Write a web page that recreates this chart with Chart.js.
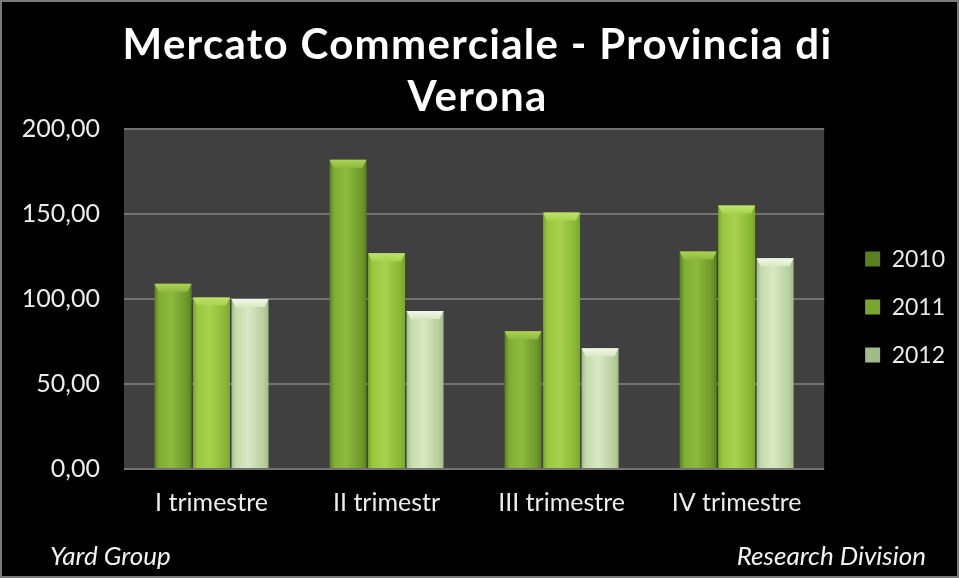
<!DOCTYPE html>
<html><head><meta charset="utf-8">
<script src="https://cdn.jsdelivr.net/npm/chart.js@4.4.0/dist/chart.umd.min.js"></script>
<style>
html,body{margin:0;padding:0;background:#000;}
#wrap{position:relative;width:959px;height:578px;background:#000;overflow:hidden;}
#frame{position:absolute;left:0;top:0;width:955px;height:574px;border:2px solid #7a7a7a;pointer-events:none;}
.foot{position:absolute;top:539px;font:italic 26px Lato, sans-serif;color:#f2f2f2;white-space:nowrap;}
</style></head><body>
<div id="wrap"><canvas id="c" width="959" height="578"></canvas>
<div class="foot" style="left:50px">Yard Group</div>
<div class="foot" style="right:33px">Research Division</div>
<div id="frame"></div></div>
<script>
const titleLines = ["Mercato Commerciale - Provincia di", "Verona"];
const categories = ["I trimestre", "II trimestr", "III trimestre", "IV trimestre"];
const seriesNames = ["2010", "2011", "2012"];
const values2010 = [109, 182, 81, 128];
const values2011 = [101, 127, 151, 155];
const values2012 = [100, 93, 71, 124];
const yTicks = [0, 50, 100, 150, 200];

const CAT_PCT = 0.66;
const BAR_PCT = 0.96;
const palettes = [
  ["#587f20", "#7fac34", "#8dba3f", "#6c9829", "#acd352"],
  ["#78a72b", "#98c73f", "#a7d24d", "#88b734", "#c0e26d"],
  ["#a0ba88", "#c6dbab", "#d9e8c4", "#b8ce9d", "#f2f7e8"]
];

function barFill(p, dsIndex) {
  return (ctx) => {
    const chart = ctx.chart;
    const area = chart.chartArea;
    if (!area || ctx.type !== 'data' || ctx.dataIndex === undefined) return p[2];
    const xs = chart.scales.x;
    const cw = (area.right - area.left) / categories.length;
    const group = cw * CAT_PCT;
    const slot = group / seriesNames.length;
    const center = xs.getPixelForValue(ctx.dataIndex) - group / 2 + (dsIndex + 0.5) * slot;
    const w = slot * BAR_PCT;
    const g = chart.ctx.createLinearGradient(center - w / 2, 0, center + w / 2, 0);
    g.addColorStop(0, p[0]);
    g.addColorStop(0.12, p[1]);
    g.addColorStop(0.45, p[2]);
    g.addColorStop(0.88, p[3]);
    g.addColorStop(1, p[0]);
    return g;
  };
}

const plotBg = {
  id: 'plotBg',
  beforeDraw(chart) {
    const {ctx, chartArea: a} = chart;
    ctx.save();
    ctx.fillStyle = '#404040';
    ctx.fillRect(a.left, a.top, a.right - a.left, a.bottom - a.top);
    ctx.restore();
    const tb = chart.titleBlock;
    if (tb && !tb._spaced) {
      const orig = tb.draw.bind(tb);
      tb.draw = function (ca) {
        const c = chart.ctx;
        c.save();
        try { c.letterSpacing = '1.3px'; } catch (e) {}
        orig(ca);
        c.restore();
      };
      tb._spaced = true;
    }
  }
};

const barCaps = {
  id: 'barCaps',
  afterDatasetsDraw(chart) {
    const ctx = chart.ctx;
    chart.data.datasets.forEach((ds, di) => {
      const meta = chart.getDatasetMeta(di);
      const p = palettes[di];
      meta.data.forEach((bar) => {
        const {x, y, width} = bar.getProps(['x', 'y', 'width'], true);
        const l = x - width / 2, r = x + width / 2;
        const h = 8;
        const g = ctx.createLinearGradient(0, y, 0, y + h);
        g.addColorStop(0, p[4]);
        g.addColorStop(1, p[2]);
        ctx.save();
        ctx.fillStyle = g;
        ctx.beginPath();
        ctx.moveTo(l, y);
        ctx.lineTo(r, y);
        ctx.lineTo(r - 4, y + h);
        ctx.lineTo(l + 4, y + h);
        ctx.closePath();
        ctx.fill();
        ctx.restore();
      });
    });
  }
};

const seriesValues = [values2010, values2011, values2012];

new Chart(document.getElementById('c'), {
  type: 'bar',
  data: {
    labels: categories,
    datasets: seriesNames.map((name, i) => ({
      label: name,
      data: seriesValues[i],
      backgroundColor: barFill(palettes[i], i),
      borderWidth: 0,
      categoryPercentage: CAT_PCT,
      barPercentage: BAR_PCT
    }))
  },
  options: {
    responsive: false,
    animation: false,
    devicePixelRatio: 1,
    layout: {padding: {left: 0, right: 4, top: 0, bottom: 41}},
    plugins: {
      title: {
        display: true,
        text: titleLines,
        color: '#ffffff',
        font: {family: 'Lato', weight: 'bold', size: 42, lineHeight: 1.24},
        padding: {top: 19, bottom: 6}
      },
      legend: {
        position: 'right',
        fullSize: false,
        title: {display: true, text: '', font: {size: 1, lineHeight: 1}, padding: {top: 0, bottom: 15}},
        labels: {
          color: '#ececec',
          font: {family: 'Lato', size: 23},
          boxWidth: 15,
          boxHeight: 15,
          padding: 25
        }
      },
      tooltip: {enabled: false}
    },
    scales: {
      x: {
        grid: {display: false, drawTicks: false},
        border: {display: false},
        ticks: {color: '#ececec', font: {family: 'Lato', size: 25}, padding: 19}
      },
      y: {
        min: 0,
        max: 200,
        afterBuildTicks: (s) => { s.ticks = yTicks.map(v => ({value: v})); },
        afterFit: (s) => { s.width = 124; },
        grid: {color: '#727272', lineWidth: 2, drawTicks: false},
        border: {display: false},
        ticks: {
          color: '#ececec',
          font: {family: 'Lato', size: 25},
          padding: 24,
          callback: (v) => Number(v).toFixed(2).replace('.', ',')
        }
      },
      gap: {
        type: 'linear',
        position: 'right',
        display: true,
        grid: {display: false},
        border: {display: false},
        ticks: {display: false},
        afterFit: (s) => { s.width = 16; }
      }
    }
  },
  plugins: [plotBg, barCaps]
});
</script>
</body></html>
